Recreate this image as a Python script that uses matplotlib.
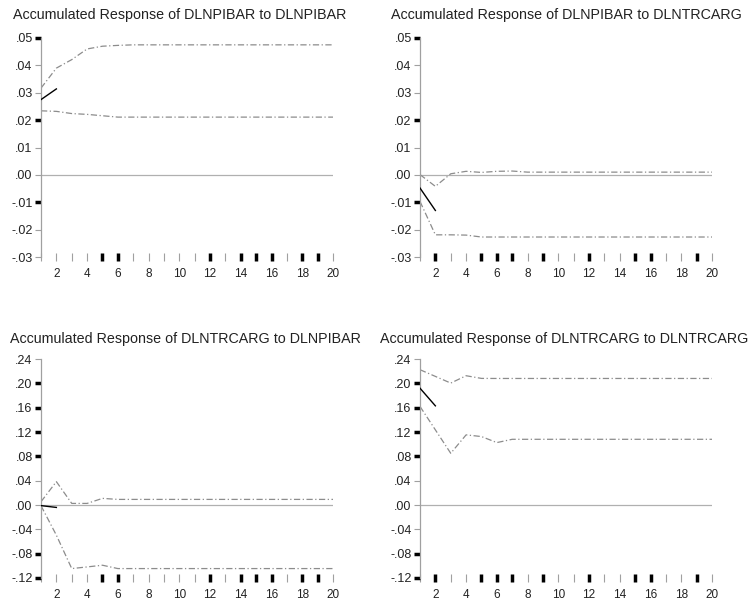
import matplotlib
matplotlib.use("Agg")
import matplotlib.pyplot as plt
import numpy as np

plt.rcParams["font.family"] = ["Liberation Sans", "DejaVu Sans"]

# Periodos
periodos = list(range(1, 21))

# Painel 1 - DLNPIBAR a DLNPIBAR
p1_sup = [0.0317, 0.0390, 0.0421, 0.0460, 0.0470, 0.0473] + [0.0475] * 14
p1_inf = [0.0234, 0.0232, 0.0224, 0.0221, 0.0216] + [0.0211] * 15
p1_resp = [0.0275, 0.0314]

# Painel 2 - DLNPIBAR a DLNTRCARG
p2_sup = [0.0001, -0.0042, 0.0004, 0.0013, 0.0009, 0.0013, 0.0014] + [0.0010] * 13
p2_inf = [-0.0097, -0.0219, -0.0219, -0.0220] + [-0.0227] * 16
p2_resp = [-0.0048, -0.0130]

# Painel 3 - DLNTRCARG a DLNPIBAR
p3_sup = [0.0054, 0.0384, 0.0026, 0.0026, 0.0109] + [0.0092] * 15
p3_inf = [-0.0012, -0.0496, -0.1045, -0.1018, -0.0990] + [-0.1045] * 15
p3_resp = [-0.0010, -0.0040]

# Painel 4 - DLNTRCARG a DLNTRCARG
p4_sup = [0.2224, 0.2114, 0.2004, 0.2125, 0.2081] + [0.2080] * 15
p4_inf = [0.1620, 0.1235, 0.0850, 0.1153, 0.1125, 0.1026] + [0.1080] * 14
p4_resp = [0.1920, 0.1630]

titulos = [
    "Accumulated Response of DLNPIBAR to DLNPIBAR",
    "Accumulated Response of DLNPIBAR to DLNTRCARG",
    "Accumulated Response of DLNTRCARG to DLNPIBAR",
    "Accumulated Response of DLNTRCARG to DLNTRCARG",
]

yticks_cima = [-0.03, -0.02, -0.01, 0.00, 0.01, 0.02, 0.03, 0.04, 0.05]
yticks_baixo = [-0.12, -0.08, -0.04, 0.00, 0.04, 0.08, 0.12, 0.16, 0.20, 0.24]

# marcas que saem mais grossas no original
x_grossos_a = [5, 6, 12, 14, 15, 16, 18, 19]
x_grossos_b = [2, 5, 6, 7, 9, 12, 15, 16, 19]
y_grossos_cima = [0.05, 0.02, -0.01]
y_grossos_baixo = [0.20, 0.16, 0.12, 0.08, -0.08, -0.12]

W, H = 754, 601
fig = plt.figure(figsize=(W / 100, H / 100), dpi=100)

# posicoes em pixels: (esquerda, direita, topo, base, centro titulo x, titulo y)
layout = [
    (41, 333, 38, 257, 180, 15),
    (420, 712, 38, 257, 566, 15),
    (41, 333, 359, 578, 185, 339),
    (420, 712, 359, 578, 564, 339),
]

paineis = [
    (p1_sup, p1_inf, p1_resp, yticks_cima, x_grossos_a, y_grossos_cima),
    (p2_sup, p2_inf, p2_resp, yticks_cima, x_grossos_b, y_grossos_cima),
    (p3_sup, p3_inf, p3_resp, yticks_baixo, x_grossos_a, y_grossos_baixo),
    (p4_sup, p4_inf, p4_resp, yticks_baixo, x_grossos_b, y_grossos_baixo),
]

cinza = "#8c8c8c"

for (l, r, t, b, tx, ty), (sup, inf, resp, yt, xg, yg), titulo in zip(layout, paineis, titulos):
    ax = fig.add_axes([l / W, 1 - b / H, (r - l) / W, (b - t) / H])

    ax.axhline(0, color="#b0b0b0", linewidth=0.9, zorder=1)
    ax.plot(periodos, sup, color=cinza, linewidth=0.9,
            linestyle=(0, (5, 2, 1, 2)), zorder=2)
    ax.plot(periodos, inf, color=cinza, linewidth=0.9,
            linestyle=(0, (5, 2, 1, 2)), zorder=2)
    ax.plot(periodos[:2], resp, color="black", linewidth=1.0, zorder=3)

    ax.set_xlim(1, 20)
    ax.set_ylim(yt[0], yt[-1])
    ax.set_xticks(periodos)
    ax.set_xticklabels([str(p) if p % 2 == 0 else "" for p in periodos])
    ax.set_yticks(yt)
    ax.set_yticklabels([("%.2f" % v).replace("0.", ".") for v in yt])

    for lado in ["top", "right", "bottom"]:
        ax.spines[lado].set_visible(False)
    ax.spines["left"].set_color("#a0a0a0")
    ax.spines["left"].set_linewidth(0.9)

    ax.tick_params(axis="x", direction="inout", length=6, width=0.8,
                   color="#a0a0a0", labelsize=8.5, pad=5, labelcolor="#222222")
    ax.tick_params(axis="y", direction="out", length=4, width=0.8,
                   color="#a0a0a0", labelsize=9, pad=2, labelcolor="#222222")

    for p, tk in zip(periodos, ax.xaxis.get_major_ticks()):
        if p in xg:
            tk.tick1line.set_markeredgecolor("black")
            tk.tick1line.set_markeredgewidth(2.5)
    for v, tk in zip(yt, ax.yaxis.get_major_ticks()):
        if any(abs(v - g) < 1e-9 for g in yg):
            tk.tick1line.set_markeredgecolor("black")
            tk.tick1line.set_markeredgewidth(2.5)

    fig.text(tx / W, 1 - ty / H, titulo, ha="center", va="center",
             fontsize=10.3, color="#222222")

plt.savefig("out.png", dpi=100)
plt.close()
